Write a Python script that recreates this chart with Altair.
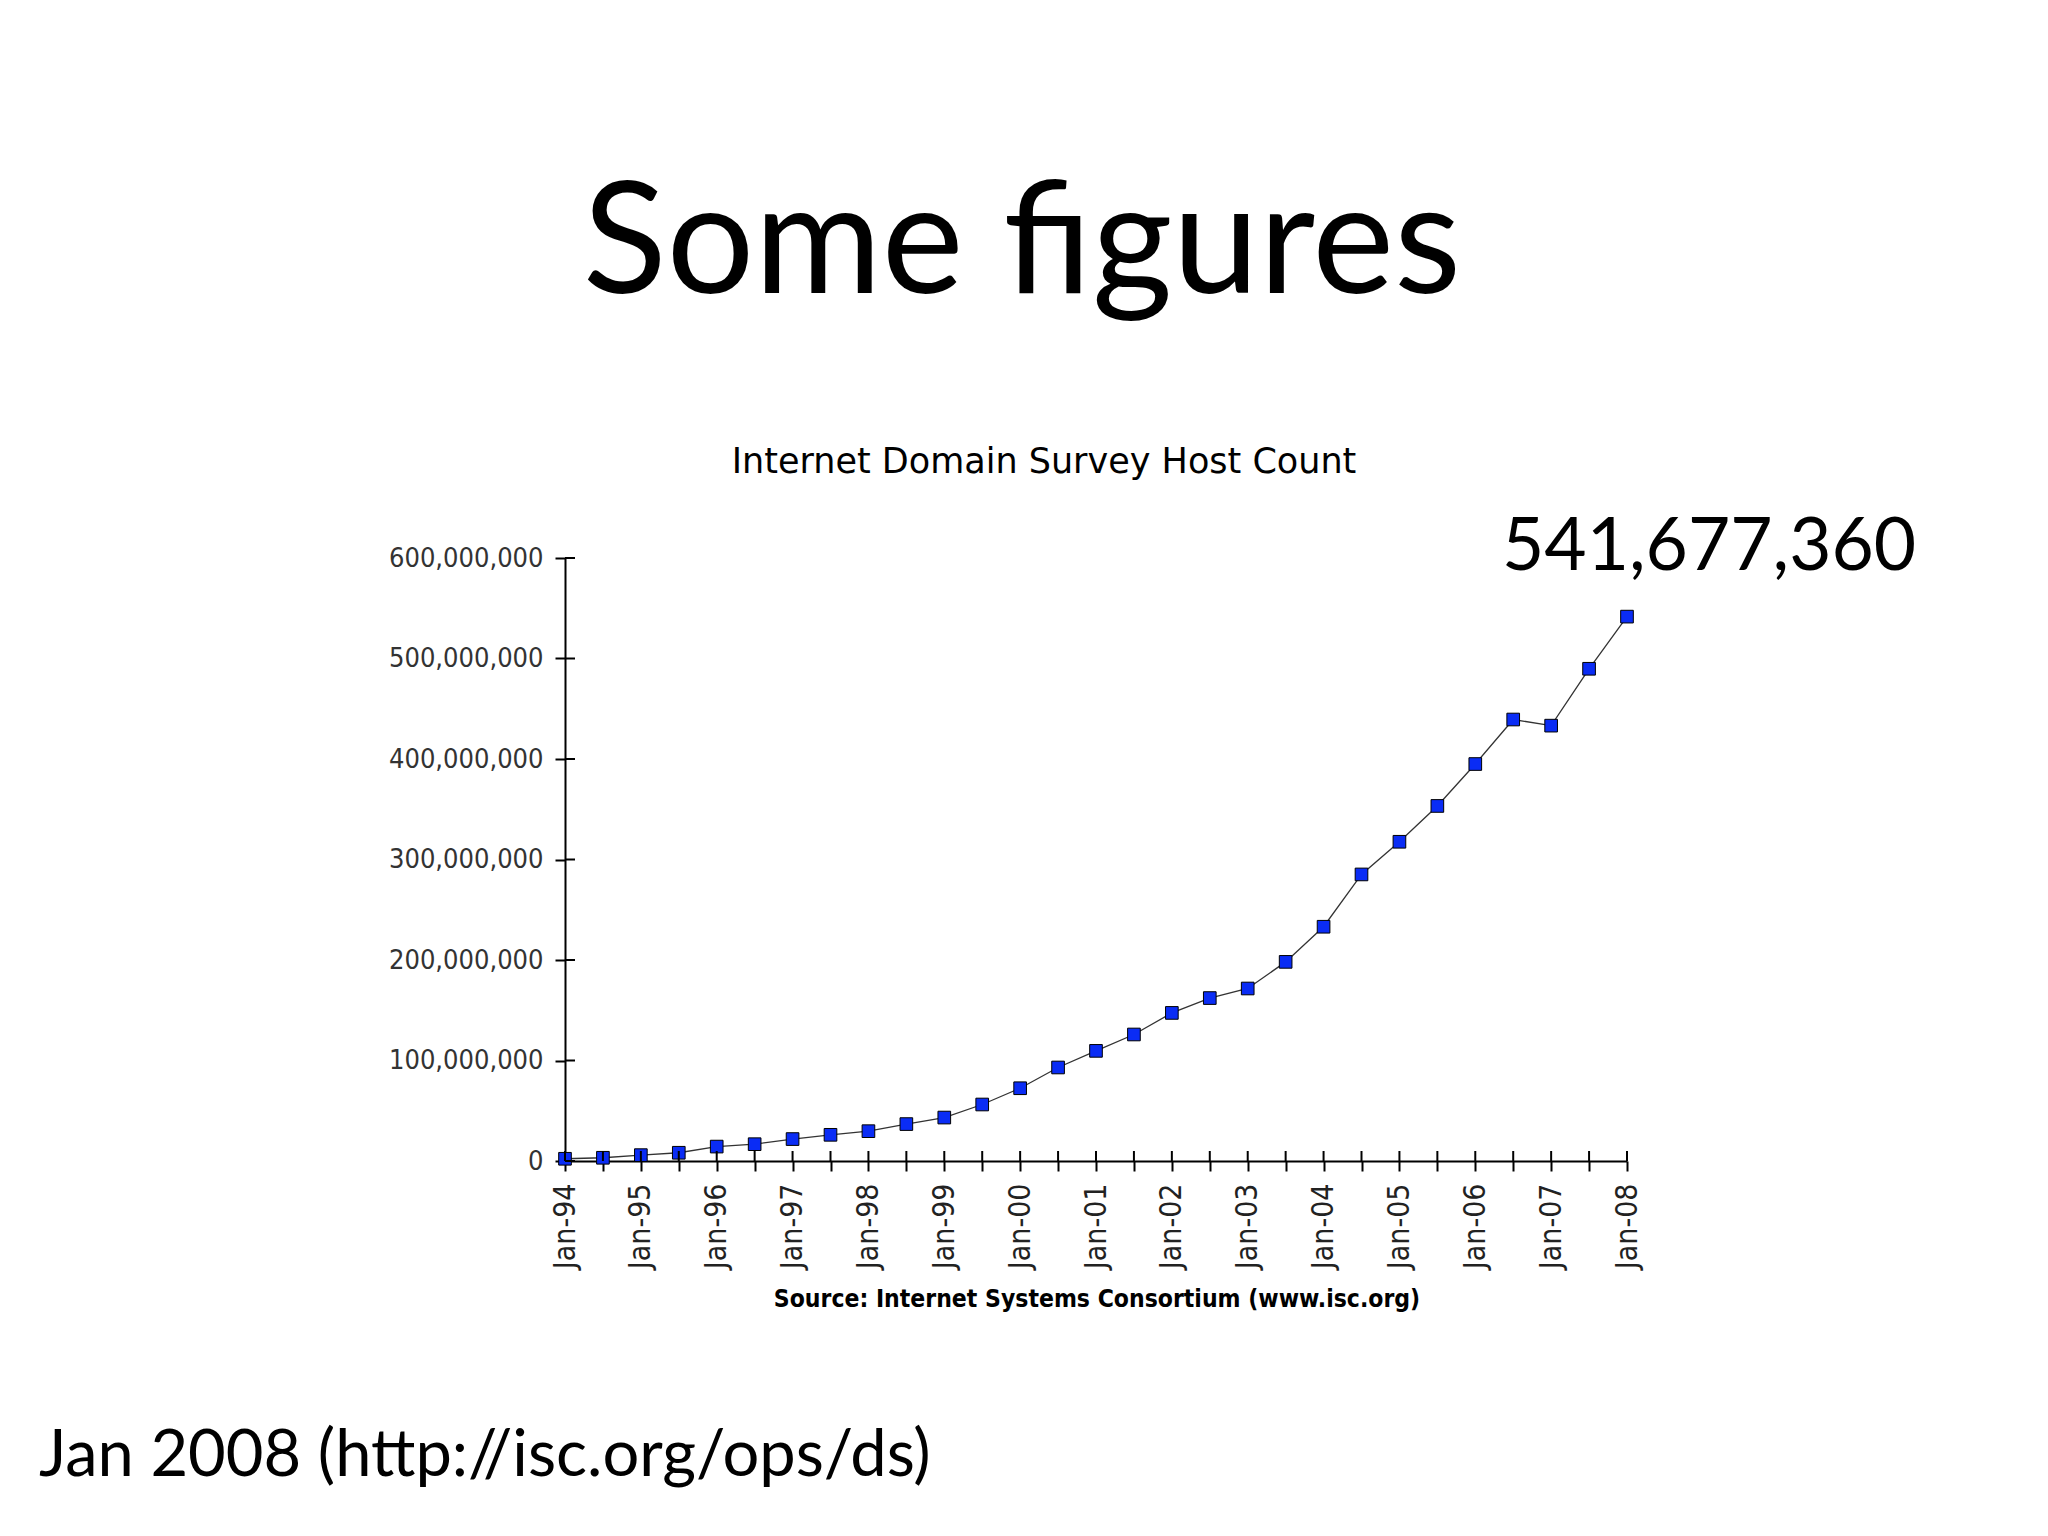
import altair as alt
import pandas as pd

periods = ["Jan-94", "Jul-94", "Jan-95", "Jul-95", "Jan-96", "Jul-96", "Jan-97", "Jul-97",
           "Jan-98", "Jul-98", "Jan-99", "Jul-99", "Jan-00", "Jul-00", "Jan-01", "Jul-01",
           "Jan-02", "Jul-02", "Jan-03", "Jul-03", "Jan-04", "Jul-04", "Jan-05", "Jul-05",
           "Jan-06", "Jul-06", "Jan-07", "Jul-07", "Jan-08"]
hosts = [2217000, 3212000, 5846000, 8200000, 14352000, 16729000, 21819000, 26053000,
         29670000, 36739000, 43230000, 56218000, 72398092, 93047785, 109574429, 125888197,
         147344723, 162128493, 171638297, 198133000, 233101481, 285139107, 317646084, 353284187,
         394991609, 439286364, 433193199, 489774269, 541677360]
y_ticks = [0, 100000000, 200000000, 300000000, 400000000, 500000000, 600000000]

df = pd.DataFrame({"period": periods, "hosts": hosts})
tick_df = pd.DataFrame({"v": y_ticks})
xt_df = pd.DataFrame({"period": periods})

chart_font = "Liberation Sans Narrow, DejaVu Sans Condensed, sans-serif"
slide_font = "Lato, Open Sans, sans-serif"

W, H = 1062, 603

x_enc = alt.X("period:O", sort=periods,
              scale=alt.Scale(type="point", padding=0),
              axis=alt.Axis(title=None, labelAngle=270, labelAlign="right", labelBaseline="middle",
                            labelExpr="indexof(datum.value, 'Jan') == 0 ? datum.value : ''",
                            labelFont=chart_font, labelFontSize=30, labelColor="#222",
                            labelPadding=12, tickSize=10, tickColor="#000", tickWidth=2,
                            domainColor="#000", domainWidth=2, grid=False))
y_enc = alt.Y("hosts:Q", scale=alt.Scale(domain=[0, 600000000], nice=False),
              axis=alt.Axis(title=None, values=y_ticks, format=",d",
                            labelFont=chart_font, labelFontSize=27, labelColor="#333",
                            labelPadding=12, tickSize=10, tickColor="#000", tickWidth=2,
                            domainColor="#000", domainWidth=2, grid=False))

line = alt.Chart(df).mark_line(color="#333", strokeWidth=1.3).encode(x=x_enc, y=y_enc)
pts = alt.Chart(df).mark_square(size=160, color="#0a2cf5", stroke="#000", strokeWidth=1, opacity=1,
                                filled=True).encode(x=x_enc, y=y_enc)

# inner halves of the crossing tick marks
ytick_in = alt.Chart(tick_df).mark_rule(color="#000", strokeWidth=2).encode(
    y=alt.Y("v:Q", scale=alt.Scale(domain=[0, 600000000], nice=False)),
    x=alt.value(0), x2=alt.value(10))
xtick_in = alt.Chart(xt_df).mark_rule(color="#000", strokeWidth=2).encode(
    x=alt.X("period:O", sort=periods, scale=alt.Scale(type="point", padding=0)),
    y=alt.value(H), y2=alt.value(H - 10))

def txt(s, x, y, size, font, weight="normal", align="center"):
    return alt.Chart(pd.DataFrame({"t": [s]})).mark_text(
        font=font, fontSize=size, fontWeight=weight, align=align, baseline="middle", color="#000"
    ).encode(text="t:N", x=alt.value(x), y=alt.value(y))

title_main = txt("Some figures", 457, -312, 155, slide_font)
title_chart = txt("Internet Domain Survey Host Count", 479, -96, 35, "DejaVu Sans")
source = txt("Source: Internet Systems Consortium (www.isc.org)", 532, 742, 24.5, chart_font, "bold")
big_num = txt("541,677,360", 937, -10, 73, slide_font, align="left")
footer = txt("Jan 2008 (http://isc.org/ops/ds)", -526, 898, 65, slide_font, align="left")

chart = alt.layer(line, pts, ytick_in, xtick_in, title_main, title_chart, source, big_num, footer).properties(
    width=W, height=H,
    autosize=alt.AutoSizeParams(type="none"),
    padding={"left": 557, "top": 550, "right": 413, "bottom": 367},
    background="white",
).configure_view(stroke=None)

chart.save("out.html", embed_options={"renderer": "svg", "actions": False})
